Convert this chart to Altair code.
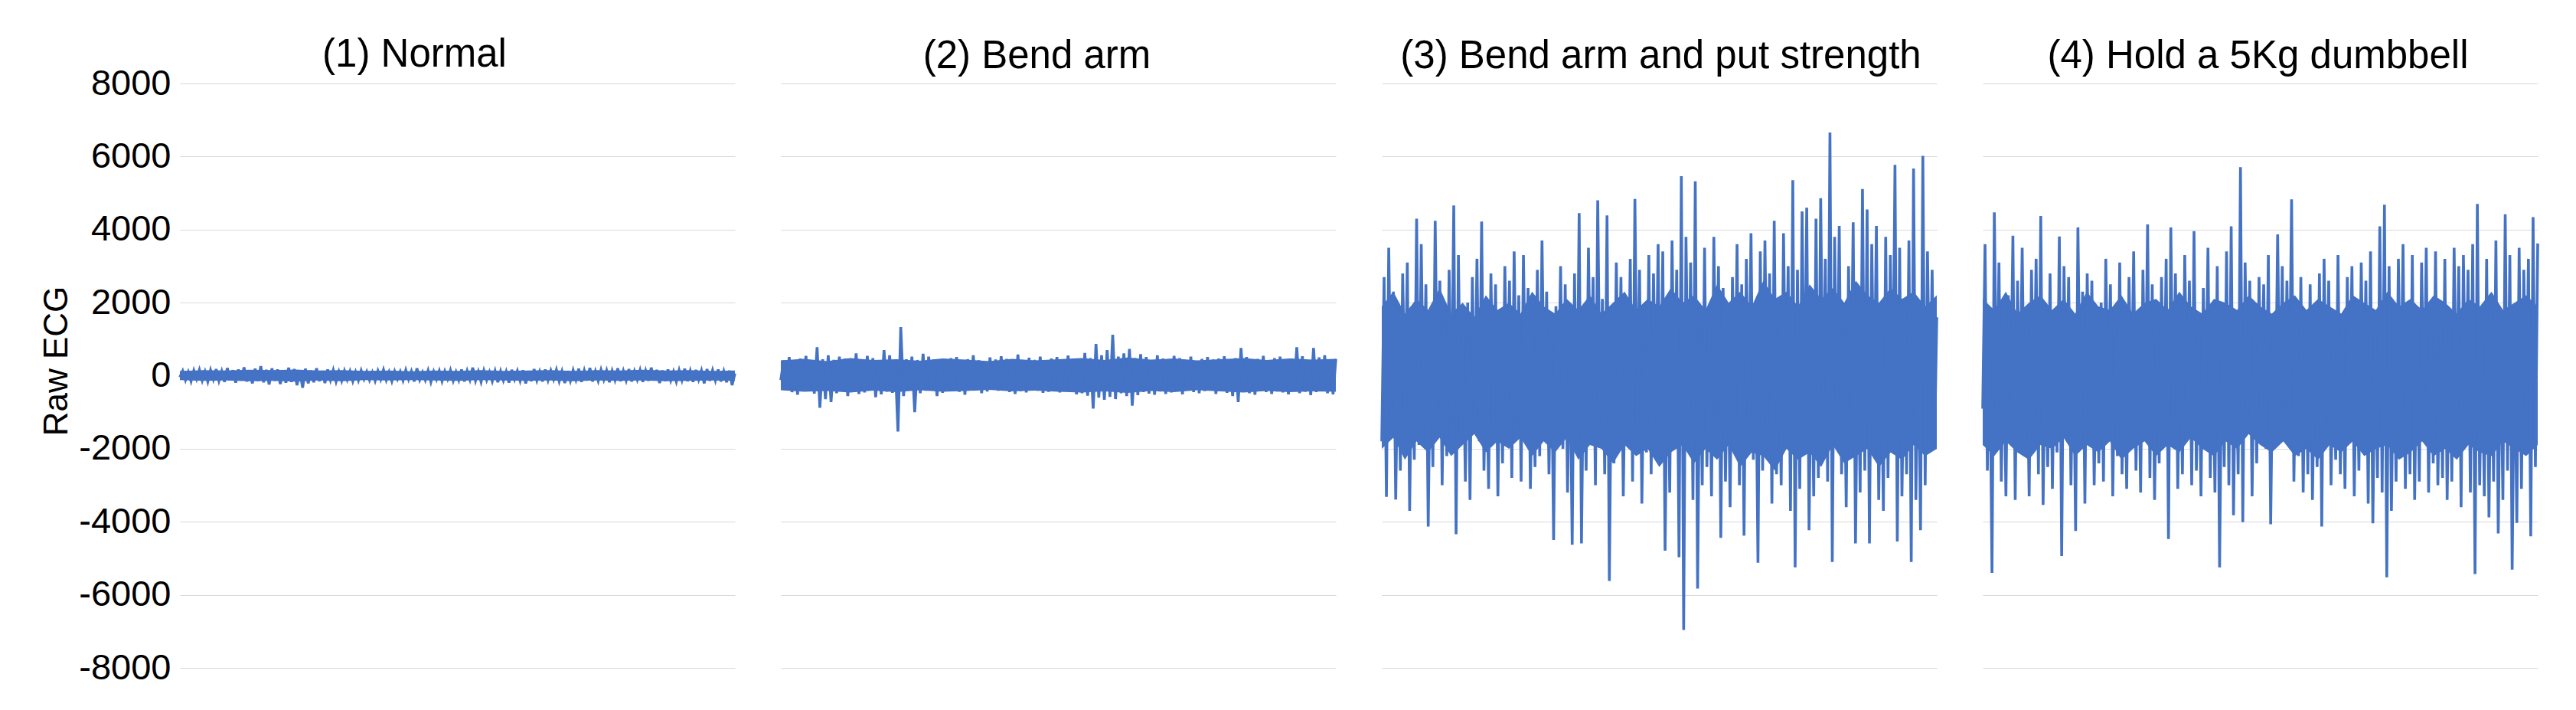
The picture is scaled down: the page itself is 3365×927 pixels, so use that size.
import altair as alt
import pandas as pd

panel_titles = ["(1) Normal", "(2) Bend arm", "(3) Bend arm and put strength", "(4) Hold a 5Kg dumbbell"]
y_ticks = [-8000, -6000, -4000, -2000, 0, 2000, 4000, 6000, 8000]

p1 = [
    -40, 130, -120, 100, -150, 140, -90, 160, -130, 110, -160, 150, -100, 180, -140, 120, -170, 210, -120, 150,
    -190, 170, -130, 230, -160, 140, -210, 190, -150, 260, -180, 160, -240, 200, -140, 170, -230, 150, -190, 220,
    -170, 180, -260, 150, -330, 190, -210, 140, -180, 200, -150, 130, -200, 170, -120, 150, -160, 110, -140, 130,
    -110, 120, -150, 100, -130, 140, -90, 110, -120, 90, -140, 130, -100, 160, -120, 100, -150, 120, -90, 110,
    -130, 150, -100, 120, -160, 200, -110, 90, -120, 140, -170, 110, -100, 130, -150, 120, -90, 150, -140, 100,
    -120, 170, -160, 130, -110, 220, -140, 110, -170, 140, -120, 100, -150, 130, -180, 120, -130, 110, -190, 160,
    -100, 130, -140, 150, -210, 120, -150, 180, -130, 110, -160, 170, -120, 140, -100, 160, -150, 120, -200, 130,
    -140, 150, -110, 190, -170, 140, -130, 210, -160, 120, -140, 160, -110, 140, -180, 130, -120, 200, -150, 130,
    -130, 180, -160, 120, -110, 150, -170, 130, -140, 220, -120, 160, -200, 140, -150, 170, -130, 110, -160, 150,
    -120, 190, -150, 130, -170, 160, -110, 140, -210, 180, -140, 150, -130, 170, -160, 120, -180, 140, -260, 60,
]

p2 = [
    -120, 420, -380, 510, -450, 360, -520, 470, -300, 540, -410, 380, -490, 780, -880, 450, -640, 560, -720, 430,
    -480, 520, -350, 470, -560, 390, -430, 610, -500, 350, -460, 540, -380, 480, -590, 420, -510, 700, -440, 560,
    -470, 380, -1530, 1330, -560, 450, -390, 520, -1000, 430, -480, 600, -410, 520, -380, 450, -560, 400, -470, 360,
    -420, 480, -350, 510, -440, 390, -520, 450, -370, 560, -400, 420, -480, 370, -430, 500, -360, 440, -410, 530,
    -380, 460, -450, 400, -500, 580, -420, 380, -460, 490, -350, 430, -410, 520, -470, 360, -440, 470, -390, 510,
    -460, 420, -380, 550, -430, 470, -510, 400, -480, 620, -550, 480, -900, 870, -600, 560, -660, 700, -580, 1120,
    -640, 520, -480, 610, -560, 730, -820, 480, -530, 590, -450, 510, -490, 420, -520, 560, -430, 470, -500, 400,
    -460, 540, -390, 480, -510, 430, -370, 520, -450, 390, -480, 460, -420, 510, -360, 440, -500, 470, -410, 530,
    -470, 420, -560, 480, -720, 760, -430, 510, -480, 400, -520, 460, -390, 540, -450, 420, -500, 480, -430, 520,
    -460, 390, -510, 470, -420, 780, -480, 530, -440, 410, -530, 760, -450, 500, -400, 560, -480, 430, -510, 460,
]

p3 = [
    -1800, 2700, -3320, 3500, -1100, 2300, -3390, 1200, -2600, 2800, -900, 3100, -3700, 1400, -2300, 4300, -1900, 3600, -1200, 2500,
    -4130, 1300, -2500, 4240, -1000, 2600, -3000, 1800, -2200, 2900, -1300, 4660, -4340, 3300, -1600, 1100, -2900, 2000, -3400, 2700,
    -1200, 3200, -1800, 4220, -2600, 1000, -3100, 2800, -1100, 2500, -3300, 1700, -2400, 3000, -900, 2600, -2800, 3400, -1300, 2200,
    -2900, 3300, -1000, 2400, -3100, 1200, -2500, 2900, -2200, 3700, -1100, 2300, -2700, 1300, -4500, 1900, -1200, 3000, -2000, 2500,
    -3200, 1100, -4630, 2800, -1900, 4450, -4590, 1300, -2600, 3500, -1000, 2700, -3000, 4800, -1200, 2100, -2700, 4390, -5620, 1400,
    -2400, 3100, -1000, 2700, -3300, 1200, -1800, 3200, -2900, 4840, -1300, 2900, -3500, 1100, -2100, 3300, -2700, 2800, -1200, 3600,
    -2300, 3400, -4790, 1300, -3200, 3700, -1400, 2900, -4970, 5460, -6960, 3800, -1200, 3100, -3400, 5320, -5830, 1400, -3000, 3500,
    -2500, 1300, -3300, 3800, -1100, 3000, -4440, 2400, -2900, 1200, -3600, 2700, -1300, 3600, -3000, 2500, -4380, 3200, -1400, 3900,
    -2300, 1200, -5120, 3400, -2600, 3700, -1300, 2800, -3500, 4240, -2700, 1400, -3000, 3900, -1200, 3000, -3700, 5350, -5250, 2900,
    -3100, 4500, -1400, 4600, -4230, 1300, -3300, 4300, -2800, 4860, -1200, 3200, -2900, 6660, -5100, 3800, -1300, 4100, -2700, 1500,
    -3600, 3000, -1300, 4200, -4590, 1400, -3200, 5110, -2600, 4550, -4590, 3600, -1200, 4100, -3400, 1300, -3700, 3800, -2800, 3300,
    -1400, 5770, -4540, 3500, -3300, 1200, -2700, 3700, -5100, 5670, -3400, 1300, -4230, 6020, -3000, 3400, -1200, 2900, -2000, 1600,
]

p4 = [
    -900, 3600, -2600, 1300, -5400, 4470, -1200, 3100, -2900, 1100, -3300, 2200, -1000, 3830, -3400, 2600, -1300, 3500, -1900, 1200,
    -3300, 2900, -1100, 3200, -2700, 4370, -3540, 1000, -2500, 2800, -3100, 1300, -2100, 3810, -4940, 3000, -1200, 2700, -3000, 1400,
    -4250, 4060, -1300, 2300, -3500, 2800, -1100, 2600, -3000, 1200, -2400, 2000, -2900, 3200, -1000, 2500, -3300, 1300, -2200, 3100,
    -2700, 1200, -3100, 2700, -1100, 3400, -2600, 1300, -3200, 2900, -1200, 4140, -2800, 2500, -3400, 1100, -2400, 2700, -1300, 3200,
    -4470, 4060, -1200, 2800, -3100, 1300, -2700, 3300, -1000, 2600, -3000, 3960, -2600, 1200, -3300, 2400, -1100, 3500, -2800, 1400,
    -3200, 3000, -5250, 1200, -2500, 3400, -3000, 4090, -3820, 1300, -2700, 5710, -4010, 3100, -1200, 2600, -3300, 1400, -2400, 2700,
    -1100, 2500, -2000, 3300, -4070, 1200, -1600, 3870, -1300, 3000, -1800, 2600, -1200, 4830, -2900, 1300, -2200, 2700, -3200, 1400,
    -2700, 2500, -3400, 1200, -2500, 2800, -4130, 3200, -1300, 2600, -3000, 1100, -2300, 3300, -2700, 1300, -3100, 2700, -1200, 3000,
    -3300, 1300, -2600, 3100, -1200, 2600, -3500, 3400, -4040, 1200, -2800, 4090, -3200, 4680, -5520, 3000, -3700, 1300, -2900, 3200,
    -1300, 3600, -3100, 1200, -2700, 3300, -3400, 1400, -2900, 3100, -1200, 3500, -3200, 1300, -2400, 3400, -3000, 1200, -2800, 3200,
    -3400, 1300, -2900, 3500, -1200, 3000, -3600, 3300, -1300, 2900, -3200, 3600, -5430, 4700, -3000, 1200, -3300, 3200, -3880, 1400,
    -2900, 3700, -4320, 1300, -3400, 4420, -2600, 3300, -5310, 1200, -4030, 3500, -3100, 2900, -1300, 3200, -4400, 4340, -2500, 3620,
]

# dense (solid-looking) core of each trace: upper / lower edge, read across the panel
core_hi = [
    [130, 150, 140, 160, 150, 170, 140, 150, 130, 140, 120, 140, 130, 150, 130, 140, 150, 130, 150, 140, 160, 140, 150, 130, 140],
    [420, 460, 400, 480, 430, 450, 410, 470, 440, 400, 460, 420, 450, 480, 430, 500, 440, 470, 420, 450, 480, 430, 470, 440, 460],
    [1900, 2300, 1700, 2100, 1800, 2400, 1700, 2000, 1600, 2200, 1800, 2000, 1700, 2300, 1900, 1700, 2100, 1800, 2200, 1700,
     2000, 2300, 1800, 2100, 1900, 2400, 2000, 2200, 1800, 2500, 2000, 2300, 1900, 2600, 2100, 2300, 1900, 2500, 2100, 2400,
     2000, 2600, 2200, 2000, 2400, 2100, 2300, 1900, 2200],
    [2100, 1800, 2300, 1700, 2000, 2200, 1800, 2100, 1700, 2300, 1900, 1800, 2200, 1700, 2000, 2100, 1800, 2300, 1900, 1700,
     2100, 2000, 1800, 2200, 1900, 1700, 2000, 2200, 1800, 2100, 1900, 1700, 2200, 2000, 1800, 2300, 1900, 2100, 1800, 2200,
     2000, 1700, 2100, 1900, 2300, 1800, 2000, 2200, 1900],
]
core_lo = [
    [-120, -140, -130, -150, -140, -160, -130, -150, -120, -130, -120, -130, -140, -120, -130, -140, -130, -150, -130, -140, -130, -150, -140, -130, -140],
    [-400, -440, -420, -460, -410, -450, -400, -440, -420, -390, -430, -410, -440, -460, -430, -470, -420, -450, -400, -430, -460, -420, -450, -430, -440],
    [-2000, -1700, -2300, -1800, -2100, -1700, -2200, -1900, -1600, -2100, -1800, -2000, -1700, -2200, -1800, -2100, -1700, -2300, -1900, -2000,
     -2400, -1900, -2200, -2000, -2500, -2100, -1900, -2400, -2000, -2300, -1900, -2500, -2100, -2200, -2600, -2000, -2300, -2100, -2500, -1900,
     -2400, -2200, -2000, -2500, -2100, -2300, -1900, -2200, -2000],
    [-1900, -2200, -1800, -2100, -2300, -1900, -2000, -1700, -2200, -1900, -2100, -1800, -2300, -2000, -1800, -2200, -1900, -2100, -1700, -2000,
     -2200, -1800, -2000, -1600, -1900, -2100, -1800, -2200, -2000, -2300, -1900, -2100, -1800, -2200, -2000, -1900, -2300, -2100, -1800, -2200,
     -2000, -2300, -1900, -2100, -2200, -1800, -2000, -2200, -1900],
]

series = [p1, p2, p3, p4]
title_dx = [-56, -28, 2, -3]
title_dy = [22, 0, 0, 0]

FONT = "Liberation Sans"
LINE = "#4472C4"


def panel(k):
    vals = series[k]
    n = len(vals)
    df = pd.DataFrame({"i": list(range(n)), "v": vals})
    m = len(core_hi[k])
    band = pd.DataFrame({
        "i": [j * (n - 1) / (m - 1) for j in range(m)],
        "hi": core_hi[k],
        "lo": core_lo[k],
    })
    if k == 0:
        yax = alt.Axis(values=y_ticks, labelExpr="datum.value", title="Raw ECG",
                       titleFontSize=44, titleFont=FONT, titleFontWeight="normal",
                       titleColor="black", titlePadding=6, titleY=362,
                       labelFontSize=47, labelFont=FONT, labelColor="black", labelPadding=12,
                       ticks=False, domain=False, grid=True)
    else:
        yax = alt.Axis(values=y_ticks, title=None, labels=False, ticks=False, domain=False,
                       grid=True, minExtent=0)
    xs = alt.Scale(domain=[0, n - 1], nice=False, zero=False)
    ys = alt.Scale(domain=[-8000, 8000], nice=False)
    area = alt.Chart(band).mark_area(color=LINE, opacity=1).encode(
        x=alt.X("i:Q", axis=None, scale=xs),
        y=alt.Y("hi:Q", axis=yax, scale=ys),
        y2="lo:Q",
    )
    line = alt.Chart(df).mark_line(color=LINE, strokeWidth=3.6).encode(
        x=alt.X("i:Q", axis=None, scale=xs),
        y=alt.Y("v:Q", axis=yax, scale=ys),
    )
    return alt.layer(area, line).properties(
        width=725, height=763,
        title=alt.TitleParams(text=panel_titles[k], fontSize=51, font=FONT, fontWeight="normal",
                              color="black", anchor="middle", offset=9, dx=title_dx[k], dy=title_dy[k]),
    )


charts = [panel(k) for k in range(4)]

chart = alt.hconcat(*charts, spacing=44).properties(
    padding={"left": 44, "top": 38, "right": 5, "bottom": 5}
).configure_view(stroke=None).configure_axis(
    gridColor="#D9D9D9", gridWidth=1.2
)

chart.save("out.html", embed_options={"renderer": "svg", "actions": False})
